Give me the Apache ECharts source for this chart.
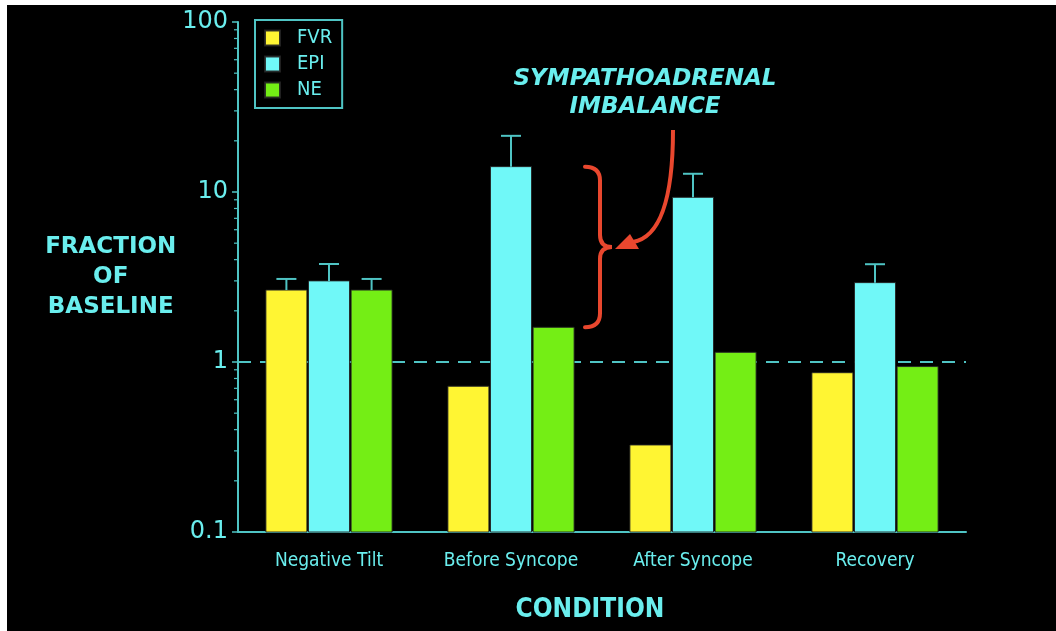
<!DOCTYPE html>
<html>
<head>
<meta charset="utf-8">
<script src="https://cdn.jsdelivr.net/npm/echarts@6/dist/echarts.min.js"></script>
<style>
  html, body { margin: 0; padding: 0; background: #ffffff; width: 1056px; height: 631px; overflow: hidden; }
  #chart { position: absolute; left: 7px; top: 5px; width: 1049px; height: 626px; background: #000000; }
</style>
</head>
<body>
<div id="chart"></div>
<script>
// ---- data ----
const categories = ['Negative Tilt', 'Before Syncope', 'After Syncope', 'Recovery'];
const seriesNames = ['FVR', 'EPI', 'NE'];
const fvr = [2.65, 0.72, 0.325, 0.865];
const epi = [3.0, 14.1, 9.3, 2.93];
const ne = [2.65, 1.6, 1.14, 0.94];
const fvrErr = [3.08, null, null, null];
const epiErr = [3.77, 21.4, 12.8, 3.76];
const neErr = [3.08, null, null, null];
const yTickLabels = [0.1, 1, 10, 100];
const minorTicks = [0.2, 0.3, 0.4, 0.5, 0.6, 0.7, 0.8, 0.9, 2, 3, 4, 5, 6, 7, 8, 9, 20, 30, 40, 50, 60, 70, 80, 90];
const baselineValue = 1;
const annotationText = ['SYMPATHOADRENAL', 'IMBALANCE'];

// ---- styles ----
const TEAL = '#4fc4c4';
const TEXT = '#6aeeee';
const RED = '#e9472e';
const COLORS = ['#fff533', '#70f8f8', '#74ee15'];
const FONT = "'DejaVu Sans Condensed', 'DejaVu Sans', sans-serif";
const BAR_W = 41;
const STEP = 42.6;
const Y_MIN = yTickLabels[0];
const Y_MAX = yTickLabels[yTickLabels.length - 1];

function barRender(offset) {
  return function (params, api) {
    const top = api.coord([api.value(0), api.value(1)]);
    const bottom = api.coord([api.value(0), Y_MIN]);
    return {
      type: 'rect',
      shape: { x: top[0] + offset - BAR_W / 2, y: top[1], width: BAR_W, height: bottom[1] - top[1] },
      style: { fill: api.visual('color'), stroke: 'rgba(35,35,35,0.9)', lineWidth: 1 }
    };
  };
}
function errData(vals, errs) {
  const out = [];
  vals.forEach((v, i) => { if (errs[i] != null) out.push([i, v, errs[i]]); });
  return out;
}
function errRender(offset) {
  return function (params, api) {
    const base = api.coord([api.value(0), api.value(1)]);
    const top = api.coord([api.value(0), api.value(2)]);
    const x = base[0] + offset;
    return {
      type: 'group',
      children: [
        { type: 'line', shape: { x1: x, y1: base[1], x2: x, y2: top[1] }, style: { stroke: TEAL, lineWidth: 2 } },
        { type: 'line', shape: { x1: x - 10, y1: top[1], x2: x + 10, y2: top[1] }, style: { stroke: TEAL, lineWidth: 2 } }
      ]
    };
  };
}
function barSeries(idx, vals, offset) {
  return {
    type: 'custom', name: seriesNames[idx], z: 2,
    itemStyle: { color: COLORS[idx], borderColor: 'rgba(35,35,35,0.9)', borderWidth: 1 },
    encode: { x: 0, y: 1 },
    data: vals.map((v, i) => [i, v]),
    renderItem: barRender(offset)
  };
}

const chart = echarts.init(document.getElementById('chart'));

const option = {
  backgroundColor: '#000000',
  animation: false,
  grid: { left: 231, right: 90, top: 17, bottom: 99, containLabel: false },
  legend: {
    data: seriesNames,
    orient: 'vertical',
    left: 248,
    top: 15,
    padding: [8, 10, 8, 9],
    itemGap: 6,
    itemWidth: 15,
    itemHeight: 15,
    icon: 'rect',
    borderColor: TEAL,
    borderWidth: 2,
    textStyle: { color: TEXT, fontSize: 20, fontFamily: FONT, padding: [0, 0, 0, 12] }
  },
  xAxis: {
    type: 'category',
    data: categories,
    name: 'CONDITION',
    nameLocation: 'middle',
    nameGap: 78,
    nameTextStyle: { color: TEXT, fontSize: 26, fontWeight: 'bold', fontFamily: FONT, verticalAlign: 'middle', padding: [0, 24, 0, 0] },
    axisLine: { lineStyle: { color: TEAL, width: 2 } },
    axisTick: { show: false },
    axisLabel: { color: TEXT, fontSize: 19, fontFamily: FONT, margin: 20 }
  },
  yAxis: {
    type: 'log',
    logBase: 10,
    min: Y_MIN,
    max: Y_MAX,
    name: 'FRACTION\nOF\nBASELINE',
    nameLocation: 'middle',
    nameRotate: 0,
    nameGap: 124,
    nameTextStyle: { color: TEXT, fontSize: 23, fontWeight: 'bold', fontFamily: "'DejaVu Sans', sans-serif", align: 'center', verticalAlign: 'middle', lineHeight: 30, padding: [6, 0, 0, 0] },
    axisLine: { show: true, lineStyle: { color: TEAL, width: 2 } },
    axisTick: { show: true, length: 6, lineStyle: { color: TEAL, width: 1.5 } },
    splitLine: { show: false },
    axisLabel: {
      color: TEXT, fontSize: 24, fontFamily: "'DejaVu Sans', sans-serif", margin: 10,
      formatter: function (v) { const t = yTickLabels.find(t => Math.abs(t - v) / t < 1e-6); return String(t != null ? t : v); }
    }
  },
  series: [
    {
      type: 'custom', name: 'baseline', silent: true, z: 1,
      data: [[0, baselineValue]],
      renderItem: function (params, api) {
        const bw = api.size([1, 0])[0];
        const a = api.coord([0, api.value(1)]);
        const b = api.coord([categories.length - 1, api.value(1)]);
        return { type: 'line', shape: { x1: a[0] - bw / 2, y1: a[1], x2: b[0] + bw / 2, y2: b[1] }, style: { stroke: TEAL, lineWidth: 2, lineDash: [13, 9] } };
      }
    },
    barSeries(0, fvr, -STEP),
    barSeries(1, epi, 0),
    barSeries(2, ne, STEP),
    { type: 'custom', name: 'FVR err', data: errData(fvr, fvrErr), renderItem: errRender(-STEP), z: 3, silent: true },
    { type: 'custom', name: 'EPI err', data: errData(epi, epiErr), renderItem: errRender(0), z: 3, silent: true },
    { type: 'custom', name: 'NE err', data: errData(ne, neErr), renderItem: errRender(STEP), z: 3, silent: true },
    {
      type: 'custom', name: 'minor ticks', silent: true, z: 3,
      data: minorTicks.map(v => [0, v]),
      renderItem: function (params, api) {
        const p = api.coord([0, api.value(1)]);
        const x0 = p[0] - api.size([1, 0])[0] / 2;
        return { type: 'line', shape: { x1: x0 - 4, y1: p[1], x2: x0, y2: p[1] }, style: { stroke: TEAL, lineWidth: 1.2 } };
      }
    },
    {
      // brace between Before Syncope EPI and NE tops, with curved arrow and label
      type: 'custom', name: 'annotation', silent: true, z: 4,
      data: [[1, epi[1], ne[1]]],
      renderItem: function (params, api) {
        const bw = api.size([1, 0])[0];
        const pT = api.coord([api.value(0), api.value(1)]);
        const pB = api.coord([api.value(0), api.value(2)]);
        const xB = pT[0] + bw / 2 - 2;
        const yT = pT[1], yB = pB[1];
        const M = (yT + yB) / 2;
        const brace =
          'M' + (xB - 15) + ',' + yT +
          ' Q' + xB + ',' + yT + ' ' + xB + ',' + (yT + 14) +
          ' L' + xB + ',' + (M - 12) +
          ' Q' + xB + ',' + M + ' ' + (xB + 12) + ',' + M +
          ' Q' + xB + ',' + M + ' ' + xB + ',' + (M + 12) +
          ' L' + xB + ',' + (yB - 14) +
          ' Q' + xB + ',' + yB + ' ' + (xB - 15) + ',' + yB;
        const arrow =
          'M' + (xB + 73) + ',' + (M - 117) +
          ' Q' + (xB + 73) + ',' + (M - 12) + ' ' + (xB + 33) + ',' + (M - 5);
        return {
          type: 'group',
          children: [
            { type: 'path', shape: { pathData: brace }, style: { stroke: RED, lineWidth: 4, fill: null, lineCap: 'round' } },
            { type: 'path', shape: { pathData: arrow }, style: { stroke: RED, lineWidth: 4, fill: null } },
            { type: 'polygon', shape: { points: [[xB + 15, M + 2], [xB + 39, M + 2], [xB + 30, M - 13]] }, style: { fill: RED } },
            {
              type: 'text', x: xB + 45, y: M - 154,
              style: {
                text: annotationText.join('\n'), fill: TEXT, font: "italic bold 23px 'DejaVu Sans', sans-serif",
                align: 'center', verticalAlign: 'middle', lineHeight: 28
              }
            }
          ]
        };
      }
    }
  ]
};
chart.setOption(option);
</script>
</body>
</html>
